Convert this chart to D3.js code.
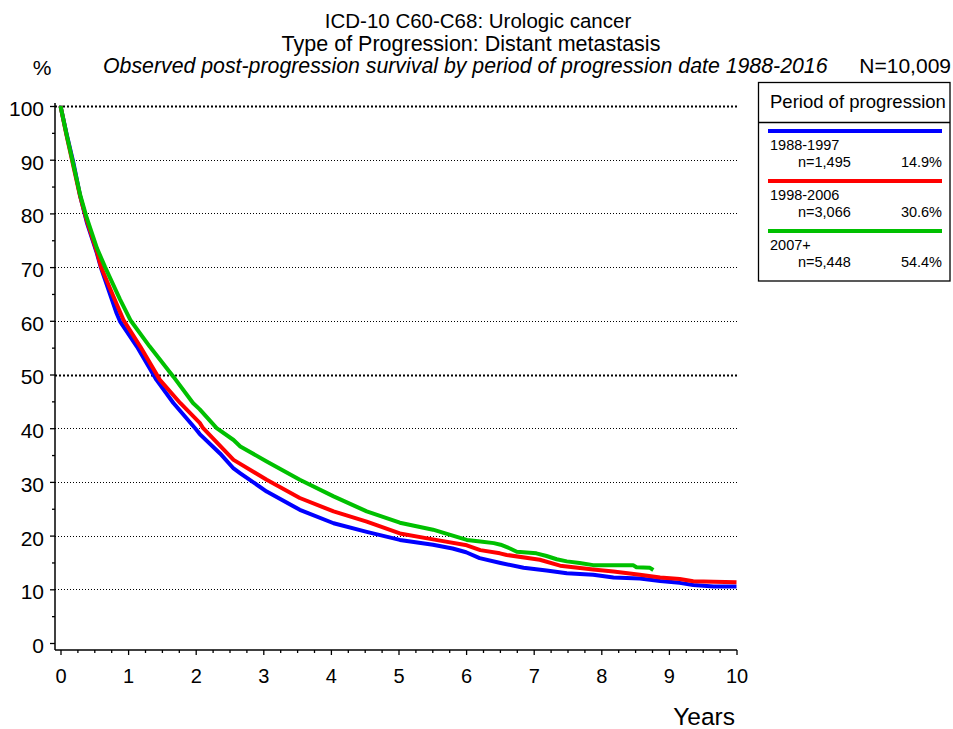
<!DOCTYPE html>
<html>
<head>
<meta charset="utf-8">
<script src="https://cdn.jsdelivr.net/npm/d3@7"></script>
<style>
  html, body { margin: 0; padding: 0; background: #fff; }
  svg { display: block; font-family: Arial, "Liberation Sans", sans-serif; }
</style>
</head>
<body>
<svg id="chart" width="953" height="729"></svg>
<script>
// Post-progression survival (%) by period of progression date
const periods = ["1988-1997", "1998-2006", "2007+"];
const counts = ["n=1,495", "n=3,066", "n=5,448"];
const shares = ["14.9%", "30.6%", "54.4%"];
const colors = ["#0000ff", "#ff0000", "#00c000"];

const yearsA = [0, 0.09, 0.19, 0.29, 0.39, 0.54, 0.6, 0.83, 0.88, 1.13, 1.42, 1.67, 2.01, 2.06, 2.36, 2.56, 2.66, 3.05, 3.54, 4.04, 4.53, 5.02, 5.51, 5.8, 6.0, 6.2, 6.51, 6.85, 7.19, 7.49, 7.88, 8.18, 8.57, 8.87, 9.16, 9.36, 9.66, 10.0];
const survA = [100, 94.8, 89.5, 83.3, 78.3, 72.5, 69.8, 61.4, 59.9, 55.2, 49.0, 44.7, 39.7, 38.9, 35.3, 32.5, 31.6, 28.2, 24.8, 22.3, 20.7, 19.2, 18.3, 17.6, 16.9, 15.8, 14.9, 14.0, 13.5, 13.0, 12.7, 12.2, 12.0, 11.55, 11.2, 10.8, 10.5, 10.5];

const yearsB = [0, 0.09, 0.19, 0.29, 0.39, 0.54, 0.6, 0.75, 0.93, 1.18, 1.47, 1.77, 2.06, 2.11, 2.56, 3.05, 3.54, 4.04, 4.53, 5.02, 5.51, 6.01, 6.21, 6.5, 6.6, 7.09, 7.39, 7.88, 8.18, 8.57, 8.87, 9.16, 9.36, 9.66, 10.0];
const survB = [100, 94.5, 88.8, 83.2, 78.6, 72.8, 70.0, 65.5, 60.2, 55.2, 49.0, 44.7, 41.0, 40.0, 34.1, 30.4, 27.0, 24.5, 22.6, 20.4, 19.3, 18.2, 17.3, 16.7, 16.4, 15.5, 14.4, 13.7, 13.3, 12.7, 12.2, 11.9, 11.5, 11.4, 11.3];

const yearsC = [0, 0.09, 0.19, 0.29, 0.39, 0.54, 0.66, 0.88, 1.04, 1.32, 1.67, 1.96, 2.06, 2.31, 2.56, 2.66, 3.05, 3.54, 4.04, 4.53, 5.02, 5.51, 6.01, 6.21, 6.41, 6.51, 6.65, 6.75, 7.04, 7.19, 7.34, 7.49, 7.68, 7.88, 8.47, 8.52, 8.72, 8.77];
const survC = [100, 94.7, 89.1, 83.5, 79.1, 73.5, 70.0, 64.0, 60.0, 55.2, 49.6, 44.7, 43.5, 40.0, 37.8, 36.6, 33.8, 30.4, 27.3, 24.5, 22.4, 21.1, 19.2, 18.9, 18.6, 18.3, 17.6, 17.0, 16.7, 16.2, 15.6, 15.2, 14.9, 14.5, 14.5, 14.1, 14.0, 13.6];

const xTicks = d3.range(0, 11);
const yTicks = d3.range(0, 101, 10);
const gridValues = d3.range(10, 101, 10);

const svg = d3.select("#chart");

const x = d3.scaleLinear().domain([0, 10]).range([60.5, 736.5]);
const y = d3.scaleLinear().domain([0, 100]).range([643, 106]);
const axisY = 55;      // vertical axis position
const axisXLine = 650; // horizontal axis position

// Titles
svg.append("text").attr("x", 478).attr("y", 28).attr("text-anchor", "middle")
  .attr("font-size", 20.5).text("ICD-10 C60-C68: Urologic cancer");
svg.append("text").attr("x", 471).attr("y", 51).attr("text-anchor", "middle")
  .attr("font-size", 21.5).text("Type of Progression: Distant metastasis");
svg.append("text").attr("x", 42).attr("y", 75).attr("text-anchor", "middle")
  .attr("font-size", 21).text("%");
svg.append("text").attr("x", 103).attr("y", 73).attr("font-style", "italic")
  .attr("font-size", 21.3).text("Observed post-progression survival by period of progression date 1988-2016");
svg.append("text").attr("x", 951).attr("y", 73).attr("text-anchor", "end")
  .attr("font-size", 21).text("N=10,009");

// Dotted horizontal gridlines (heavier at 50 and 100), snapped to the pixel grid
const gridY = d => Math.round(y(d)) + 0.5;
svg.append("g").selectAll("line").data(gridValues).join("line")
  .attr("x1", axisY).attr("x2", 739)
  .attr("y1", gridY).attr("y2", gridY)
  .attr("stroke", "#000")
  .attr("stroke-width", d => (d === 50 || d === 100) ? 2 : 1)
  .attr("stroke-dasharray", d => (d === 50 || d === 100) ? "2,2" : "1,2");

// Y axis
const yAxis = d3.axisLeft(y).tickValues(yTicks).tickSize(5).tickPadding(6)
  .tickFormat(d3.format("d"));
const gy = svg.append("g").attr("transform", `translate(${axisY},0)`).call(yAxis);
gy.select(".domain").remove();
gy.selectAll("text").attr("font-size", 21).attr("font-family", "Arial, 'Liberation Sans', sans-serif")
  .attr("dy", "0.45em").attr("fill", "#000");
gy.selectAll("line").attr("stroke", "#000").attr("stroke-width", 1.3);
const yMinor = d3.axisLeft(y).tickValues(d3.range(5, 100, 10)).tickSize(3).tickFormat("");
const gym = svg.append("g").attr("transform", `translate(${axisY},0)`).call(yMinor);
gym.select(".domain").remove();
gym.selectAll("line").attr("stroke", "#000").attr("stroke-width", 1.3);
svg.append("line").attr("x1", axisY).attr("x2", axisY).attr("y1", y(100) - 3).attr("y2", axisXLine)
  .attr("stroke", "#000").attr("stroke-width", 1.5);

// X axis
const xAxis = d3.axisBottom(x).tickValues(xTicks).tickSize(5).tickPadding(14)
  .tickFormat(d3.format("d"));
const gx = svg.append("g").attr("transform", `translate(0,${axisXLine})`).call(xAxis);
gx.select(".domain").remove();
gx.selectAll("text").attr("font-size", 20).attr("font-family", "Arial, 'Liberation Sans', sans-serif")
  .attr("fill", "#000");
gx.selectAll("line").attr("stroke", "#000").attr("stroke-width", 1.3);
const xMinor = d3.axisBottom(x).tickValues(d3.range(0, 10.01, 0.25).filter(v => v % 1 !== 0))
  .tickSize(3).tickFormat("");
const gxm = svg.append("g").attr("transform", `translate(0,${axisXLine})`).call(xMinor);
gxm.select(".domain").remove();
gxm.selectAll("line").attr("stroke", "#000").attr("stroke-width", 1.3);
svg.append("line").attr("x1", axisY).attr("x2", x(10) + 0.5).attr("y1", axisXLine).attr("y2", axisXLine)
  .attr("stroke", "#000").attr("stroke-width", 1.5);
svg.append("text").attr("x", 735).attr("y", 725).attr("text-anchor", "end")
  .attr("font-size", 24.5).text("Years");

// Survival curves
const series = [
  { t: yearsA, s: survA },
  { t: yearsB, s: survB },
  { t: yearsC, s: survC }
];
const line = d3.line().x(d => x(d[0])).y(d => y(d[1])).curve(d3.curveLinear);
series.forEach((ser, i) => {
  svg.append("path")
    .datum(ser.t.map((t, j) => [t, ser.s[j]]))
    .attr("d", line)
    .attr("fill", "none")
    .attr("stroke", colors[i])
    .attr("stroke-width", 4)
    .attr("stroke-linejoin", "round");
});

// Legend
const lg = svg.append("g");
lg.append("rect").attr("x", 758.5).attr("y", 82.5).attr("width", 191.5).attr("height", 198.5)
  .attr("fill", "#fff").attr("stroke", "#000").attr("stroke-width", 1.3);
lg.append("line").attr("x1", 758.5).attr("x2", 950).attr("y1", 122.5).attr("y2", 122.5)
  .attr("stroke", "#000").attr("stroke-width", 1.3);
lg.append("text").attr("x", 770).attr("y", 108).attr("font-size", 18.5).text("Period of progression");
periods.forEach((p, i) => {
  const top = 131 + i * 50;
  lg.append("line").attr("x1", 768).attr("x2", 942).attr("y1", top).attr("y2", top)
    .attr("stroke", colors[i]).attr("stroke-width", 4);
  lg.append("text").attr("x", 770).attr("y", top + 19).attr("font-size", 14.5).text(p);
  lg.append("text").attr("x", 798).attr("y", top + 35.5).attr("font-size", 14.5).text(counts[i]);
  lg.append("text").attr("x", 942).attr("y", top + 35.5).attr("text-anchor", "end")
    .attr("font-size", 14.5).text(shares[i]);
});
</script>
</body>
</html>
